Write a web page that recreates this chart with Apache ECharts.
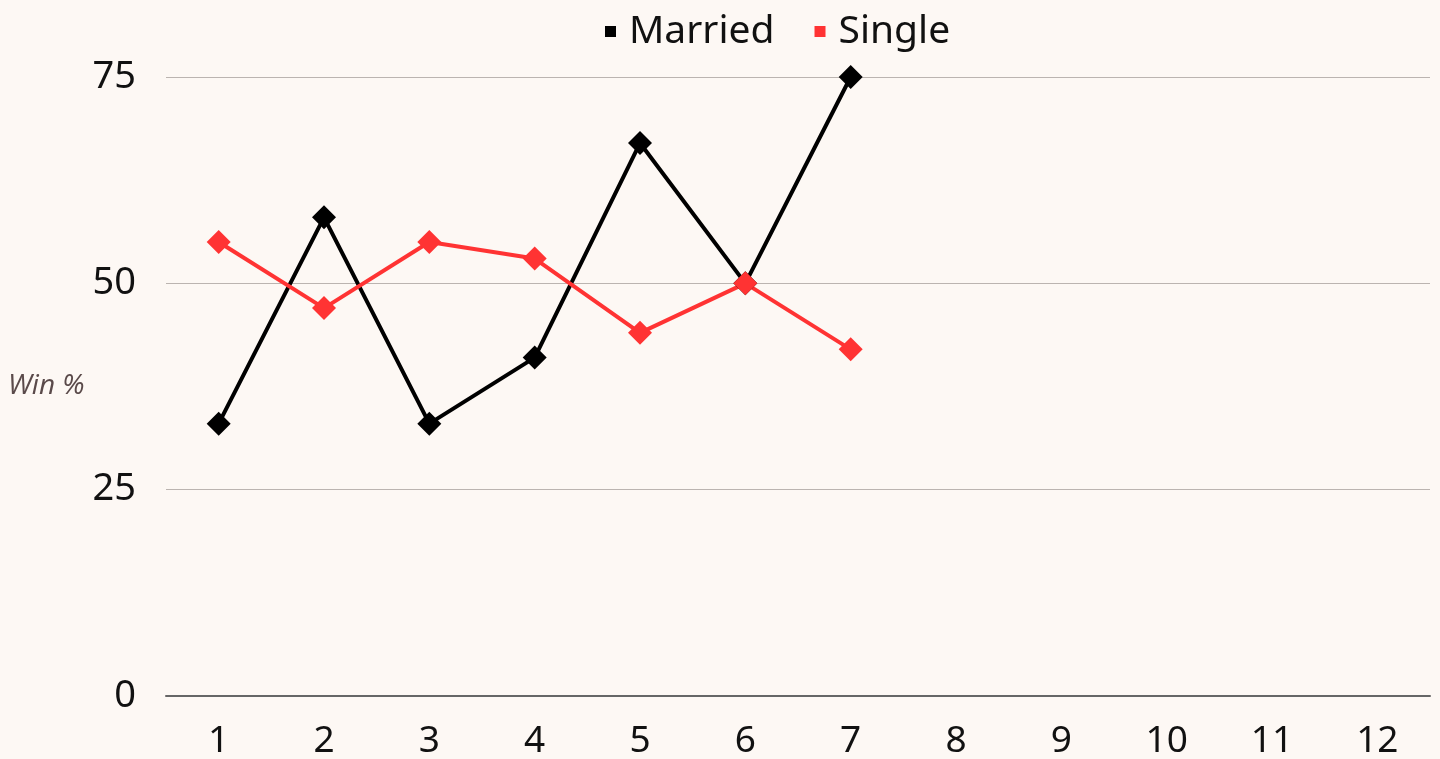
<!DOCTYPE html>
<html><head><meta charset="utf-8">
<script src="https://cdn.jsdelivr.net/npm/echarts@6/dist/echarts.min.js"></script>
<style>html,body{margin:0;padding:0;background:#fdf8f4}#c{width:1440px;height:759px}</style>
</head><body><div id="c"></div>
<script>
const categories = ['1','2','3','4','5','6','7','8','9','10','11','12'];
const married = [33, 58, 33, 41, 67, 50, 75];
const single = [55, 47, 55, 53, 44, 50, 42];
const yTicks = [0, 25, 50, 75];

const chart = echarts.init(document.getElementById('c'));
chart.setOption({
  backgroundColor: '#fdf8f4',
  animation: false,
  legend: {
    top: 12, left: 605, padding: 0,
    itemWidth: 11, itemHeight: 11, itemGap: 40,
    icon: 'rect',
    textStyle: {fontFamily: 'Noto Sans', fontSize: 39, color: '#111', padding: [0,0,0,8]},
    data: ['Married', 'Single']
  },
  grid: {left: 166, right: 10, top: 77, bottom: 63, containLabel: false, outerBoundsMode: 'none'},
  xAxis: {
    type: 'category', data: categories, boundaryGap: true,
    axisLine: {lineStyle: {color: '#666', width: 2}},
    axisTick: {show: false},
    axisLabel: {fontFamily: 'Noto Sans', fontSize: 37, color: '#111', margin: 27}
  },
  yAxis: {
    type: 'value', min: 0, max: 75, interval: 25,
    name: 'Win %', nameLocation: 'middle', nameGap: 158, nameRotate: 0,
    nameTextStyle: {fontFamily: 'Open Sans', fontStyle: 'italic', fontSize: 28, color: '#5a4a4a', align: 'left'},
    axisLine: {show: false}, axisTick: {show: false},
    axisLabel: {fontFamily: 'Noto Sans', fontSize: 38, color: '#111', margin: 30,
      formatter: v => yTicks.includes(v) ? String(v) : ''},
    splitLine: {lineStyle: {color: '#bbb4b0', width: 1}}
  },
  series: [
    {name: 'Married', type: 'line', data: married, color: '#000',
     symbol: 'diamond', symbolSize: 24, lineStyle: {width: 4, color: '#000'},
     itemStyle: {color: '#000'}},
    {name: 'Single', type: 'line', data: single, color: '#ff3333',
     symbol: 'diamond', symbolSize: 24, lineStyle: {width: 4, color: '#ff3333'},
     itemStyle: {color: '#ff3333'}}
  ]
});
</script></body></html>
